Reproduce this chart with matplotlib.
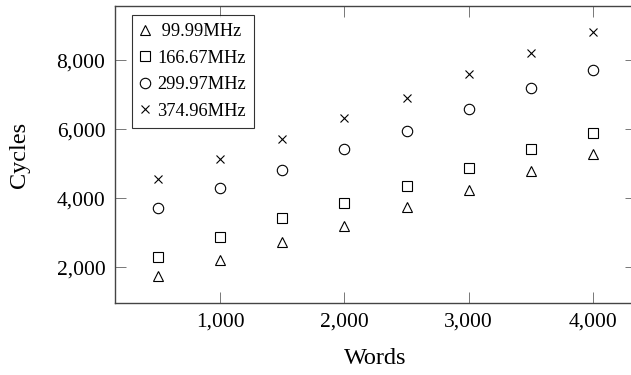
import matplotlib.pyplot as plt
from matplotlib.ticker import StrMethodFormatter

plt.rcParams['font.family'] = ['Liberation Serif', 'DejaVu Serif']

# words per run
words = [500, 1000, 1500, 2000, 2500, 3000, 3500, 4000]

# cycles per clock
cyc_100 = [1740, 2220, 2720, 3210, 3740, 4250, 4780, 5290]
cyc_167 = [2307, 2870, 3417, 3855, 4357, 4870, 5420, 5881]
cyc_300 = [3710, 4290, 4820, 5420, 5942, 6577, 7188, 7719]
cyc_375 = [4551, 5139, 5719, 6316, 6916, 7603, 8223, 8829]

labels = ['99.99MHz', '166.67MHz', '299.97MHz', '374.96MHz']

fig = plt.figure(figsize=(6.31, 3.75), dpi=100)
ax = fig.add_axes([115/631, 72/375, 521/631, 297/375])

kw = dict(linestyle='none', mfc='none', mec='black', mew=0.8)
ax.plot(words, cyc_100, marker='^', ms=7, label=' ' + labels[0], **kw)
ax.plot(words, cyc_167, marker='s', ms=7, label=labels[1], **kw)
ax.plot(words, cyc_300, marker='o', ms=7.5, label=labels[2], **kw)
ax.plot(words, cyc_375, marker='x', ms=5.5, label=labels[3], **kw)

ax.set_xlim(150, 4350)
ax.set_ylim(965, 9574)
ax.set_xticks([1000, 2000, 3000, 4000])
ax.set_yticks([2000, 4000, 6000, 8000])
ax.xaxis.set_major_formatter(StrMethodFormatter('{x:,.0f}'))
ax.yaxis.set_major_formatter(StrMethodFormatter('{x:,.0f}'))

for s in ax.spines.values():
    s.set_color('#444444')
    s.set_linewidth(1.0)
# right edge of the frame falls outside the image
ax.spines['right'].set_visible(False)
ax.tick_params(direction='in', length=8, width=0.7, color='#777777',
               top=True, right=True, labelsize=15.5, pad=7)

ax.set_xlabel('Words', fontsize=17.5, labelpad=12)
ax.set_ylabel('Cycles', fontsize=17.5, labelpad=19)

leg = ax.legend(loc='upper left', bbox_to_anchor=(0.032, 0.97), fontsize=13.2,
                frameon=True, fancybox=False, handlelength=0.6, handletextpad=0.35,
                borderpad=0.45, labelspacing=0.52, borderaxespad=0)
leg.get_frame().set_edgecolor('black')
leg.get_frame().set_linewidth(0.8)

fig.savefig('out.png', dpi=100)
